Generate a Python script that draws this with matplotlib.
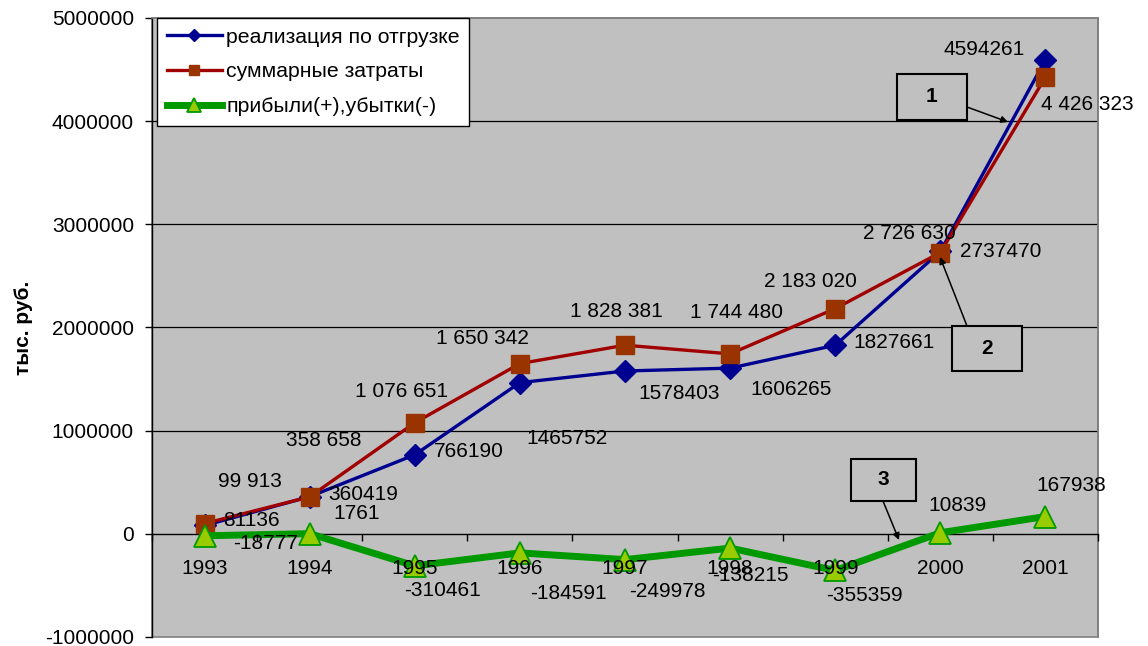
import numpy as np
import matplotlib
matplotlib.use("Agg")
import matplotlib.pyplot as plt
from matplotlib.patches import Rectangle

plt.rcParams['font.family'] = ['Liberation Sans', 'DejaVu Sans']

# --- data -------------------------------------------------------------
years = ["1993", "1994", "1995", "1996", "1997", "1998", "1999", "2000", "2001"]
sales = [81136, 360419, 766190, 1465752, 1578403, 1606265, 1827661, 2737470, 4594261]
costs = [99913, 358658, 1076651, 1650342, 1828381, 1744480, 2183020, 2726630, 4426323]
profit = [-18777, 1761, -310461, -184591, -249978, -138215, -355359, 10839, 167938]

sales_labels = ["81136", "360419", "766190", "1465752", "1578403", "1606265",
                "1827661", "2737470", "4594261"]
costs_labels = ["99 913", "358 658", "1 076 651", "1 650 342", "1 828 381",
                "1 744 480", "2 183 020", "2 726 630", "4 426 323"]
profit_labels = ["-18777", "1761", "-310461", "-184591", "-249978", "-138215",
                 "-355359", "10839", "167938"]

series_names = ["реализация по отгрузке", "суммарные затраты", "прибыли(+),убытки(-)"]
y_ticks = [-1000000, 0, 1000000, 2000000, 3000000, 4000000, 5000000]

# label offsets from their points, in pixels (right, down)
sales_off = [(47, -5), (54, -2), (54, -3), (47, 56), (54, 23), (61, 21),
             (59, -3), (60, 0), (-61, -10)]
costs_off = [(45, -42), (14, -56), (-13, -31), (-37, -25), (-9, -34), (6, -41),
             (-25, -27), (-31, -19), (42, 27)]
profit_off = [(61, 8), (47, -20), (28, 25), (49, 41), (42, 32), (20, 27),
              (29, 25), (17, -27), (26, -31)]

# --- styles -------------------------------------------------------------
BG = "#c0c0c0"
NAVY = "#000090"
DARKRED = "#a00000"
BROWN = "#993300"
GREEN = "#009900"
LIME = "#99cc00"
FS = 15
PX = 0.72  # points per pixel at 100 dpi

fig = plt.figure(figsize=(11.48, 6.46), dpi=100)
W, H = 1148, 646
left, right, top, bottom = 152, 1098, 18, 637
ax = fig.add_axes([left / W, 1 - bottom / H, (right - left) / W, (bottom - top) / H])
ax.set_facecolor(BG)

x = np.arange(len(years)) + 0.5
ax.set_xlim(0, len(years))
ax.set_ylim(y_ticks[0], y_ticks[-1])

# horizontal grid
for t in y_ticks[1:-1]:
    if t != 0:
        ax.axhline(t, color="black", lw=0.9, zorder=1)

l1, = ax.plot(x, sales, color=NAVY, lw=2.4, marker="D", ms=11,
              mfc=NAVY, mec=NAVY, zorder=3.5, label=series_names[0])
l2, = ax.plot(x, costs, color=DARKRED, lw=2.4, marker="s", ms=13,
              mfc=BROWN, mec=BROWN, zorder=4, label=series_names[1])
l3, = ax.plot(x, profit, color=GREEN, lw=5, marker="^", ms=16,
              mfc=LIME, mec=GREEN, mew=1.3, zorder=4.5, label=series_names[2])

# spines / axes
for s in ["top", "right"]:
    ax.spines[s].set_color("#808080")
    ax.spines[s].set_linewidth(1.2)
ax.spines["left"].set_color("black")
ax.spines["left"].set_linewidth(1.0)
ax.spines["bottom"].set_position(("data", 0))
ax.spines["bottom"].set_color("black")
ax.spines["bottom"].set_linewidth(1.0)
ax.add_patch(Rectangle((0, 0), 1, 1, transform=ax.transAxes, fill=False,
                       ec="#808080", lw=1.2, zorder=0.5, clip_on=False))

ax.set_yticks(y_ticks)
ax.set_yticklabels([str(t) for t in y_ticks])
ax.tick_params(axis="y", direction="out", length=5, width=1, pad=8,
               labelsize=FS, colors="black")

ax.set_xticks(np.arange(len(years) + 1))
ax.set_xticklabels([])
ax.set_xticks(x, minor=True)
ax.set_xticklabels(years, minor=True)
ax.tick_params(axis="x", which="major", direction="out", length=5, width=1)
ax.tick_params(axis="x", which="minor", length=0, pad=18, labelsize=FS)
ax.xaxis.set_zorder(6)

ax.set_ylabel("тыс. руб.", fontsize=FS, fontweight="bold")
ax.yaxis.set_label_coords(-(left - 33) / (right - left), 0.5)

# data labels
def put_labels(vals, labels, offs):
    for xi, v, lab, (dx, dy) in zip(x, vals, labels, offs):
        ax.annotate(lab, (xi, v), xytext=(dx * PX, -dy * PX),
                    textcoords="offset points", ha="center", va="center",
                    fontsize=FS, zorder=7, annotation_clip=False)

put_labels(sales, sales_labels, sales_off)
put_labels(costs, costs_labels, costs_off)
put_labels(profit, profit_labels, profit_off)

# numbered callouts
def px2data(px, py):
    return ((px - left) / (right - left) * len(years),
            y_ticks[-1] - (py - top) / (bottom - top) * (y_ticks[-1] - y_ticks[0]))

def callout(text, box, tail, head):
    (bx0, by0), (bx1, by1) = px2data(box[0], box[1]), px2data(box[2], box[3])
    ax.add_patch(Rectangle((bx0, by1), bx1 - bx0, by0 - by1, fc=BG, ec="black",
                           lw=1.5, zorder=8))
    ax.text((bx0 + bx1) / 2, (by0 + by1) / 2, text, ha="center", va="center",
            fontsize=FS, fontweight="bold", zorder=9)
    ax.annotate("", xy=px2data(*head), xytext=px2data(*tail),
                arrowprops=dict(arrowstyle="-|>", color="black", lw=1.1,
                                mutation_scale=10, shrinkA=0, shrinkB=0),
                zorder=8)

callout("1", (897, 74, 967, 120), (967, 107), (1008, 122))
callout("2", (952, 326, 1022, 371), (967, 326), (940, 257))
callout("3", (851, 459, 916, 501), (883, 501), (899, 540))

leg = ax.legend(handles=[l1, l2, l3], loc="upper left",
                bbox_to_anchor=(157 / W, 1 - 18 / H), bbox_transform=fig.transFigure,
                prop={"size": 15.3}, frameon=True, fancybox=False, framealpha=1,
                edgecolor="black", facecolor="white", borderaxespad=0,
                handlelength=2.6, handletextpad=0.2, labelspacing=0.74,
                borderpad=0.45, markerscale=0.6, numpoints=1)
leg.get_frame().set_linewidth(1.0)
leg.set_zorder(10)

fig.savefig("out.png", dpi=100, facecolor="white")
